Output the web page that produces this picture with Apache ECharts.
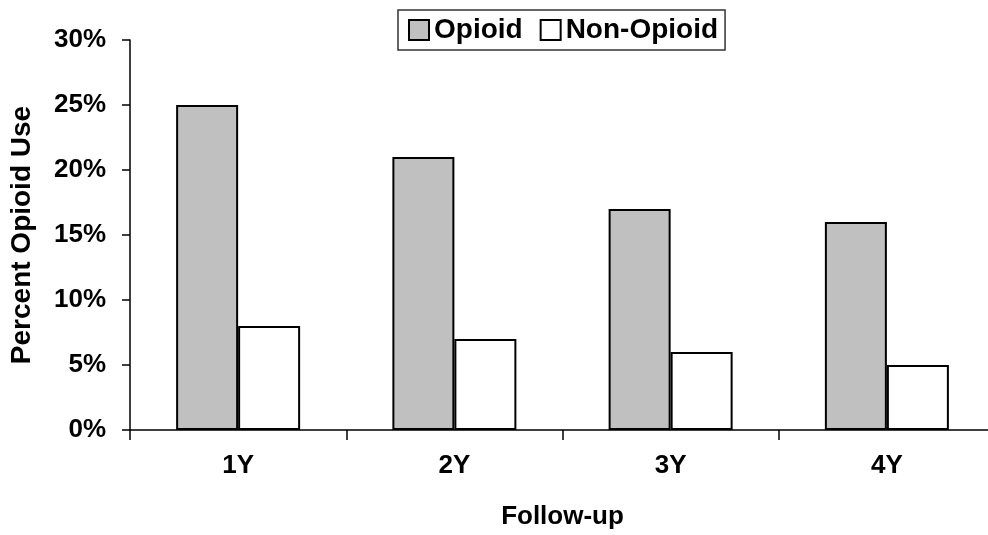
<!DOCTYPE html>
<html><head><meta charset="utf-8">
<script src="https://cdn.jsdelivr.net/npm/echarts@6/dist/echarts.min.js"></script>
<style>html,body{margin:0;padding:0;background:#fff;overflow:hidden;width:988px;height:535px}#c{width:1000px;height:535px}</style>
</head><body><div id="c"></div>
<script>
const categories = ['1Y', '2Y', '3Y', '4Y'];
const opioid = [25, 21, 17, 16];
const nonOpioid = [8, 7, 6, 5];
const seriesNames = ['Opioid', 'Non-Opioid'];

const font = '"Liberation Sans", Arial, sans-serif';
const chart = echarts.init(document.getElementById('c'), null, {renderer: 'canvas'});
chart.setOption({
  animation: false,
  backgroundColor: '#fff',
  textStyle: {fontFamily: font},
  legend: {
    top: 10, left: 398,
    data: seriesNames,
    itemWidth: 20, itemHeight: 20, itemGap: 17,
    padding: [6, 7, 6, 10],
    borderColor: '#333', borderWidth: 1.5,
    textStyle: {fontFamily: font, fontWeight: 'bold', fontSize: 28, color: '#000'},
    icon: 'rect'
  },
  grid: {left: 129, top: 40, width: 866, height: 390, containLabel: false},
  xAxis: {
    type: 'category', data: categories,
    name: 'Follow-up', nameLocation: 'middle', nameGap: 74,
    nameTextStyle: {fontFamily: font, fontWeight: 'bold', fontSize: 26, color: '#000'},
    axisLine: {lineStyle: {color: '#000', width: 1.5}},
    axisTick: {show: true, length: 10, lineStyle: {color: '#000', width: 1.5}},
    axisLabel: {fontFamily: font, fontWeight: 'bold', fontSize: 26, color: '#000', margin: 23}
  },
  yAxis: {
    type: 'value', min: 0, max: 30, interval: 5,
    name: 'Percent Opioid Use', nameLocation: 'middle', nameGap: 94, nameRotate: 90,
    nameTextStyle: {fontFamily: font, fontWeight: 'bold', fontSize: 28, color: '#000'},
    axisLine: {show: true, lineStyle: {color: '#000', width: 1.5}},
    axisTick: {show: true, length: 8, lineStyle: {color: '#000', width: 1.5}},
    splitLine: {show: false},
    axisLabel: {fontFamily: font, fontWeight: 'bold', fontSize: 26, color: '#000', margin: 24, formatter: '{value}%'}
  },
  series: [
    {name: seriesNames[0], type: 'bar', data: opioid, barWidth: 62, barGap: '0%',
     itemStyle: {color: '#c0c0c0', borderColor: '#000', borderWidth: 2}},
    {name: seriesNames[1], type: 'bar', data: nonOpioid, barWidth: 62, barGap: '0%',
     itemStyle: {color: '#fff', borderColor: '#000', borderWidth: 2}}
  ]
});
</script></body></html>
